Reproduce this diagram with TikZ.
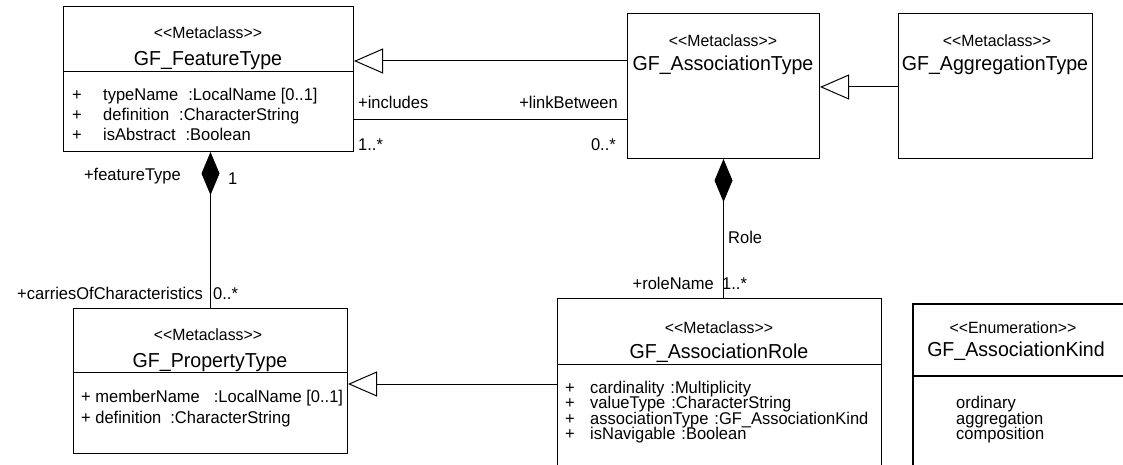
\documentclass[tikz,border=0pt]{standalone}
\usepackage{fontspec}
\setmainfont{Liberation Sans}[FakeStretch=0.97]
\usetikzlibrary{arrows.meta}
\newcommand\stL{<\kern0pt<}
\newcommand\stR{>\kern0pt>}
\newcommand\fA{\fontsize{17}{19}\selectfont}
\newcommand\fN{\fontsize{20.2}{23}\selectfont}
\newcommand\fS{\fontsize{16.3}{18}\selectfont}
\begin{document}
\begin{tikzpicture}[x=1pt,y=-1pt,
  cls/.style={draw, line width=1pt, inner sep=0pt, anchor=north west},
  gen/.style={line width=1pt, -{Triangle[open, length=29pt, width=25pt, fill=white, line width=1pt]}},
  comp/.style={line width=1pt, {Diamond[length=43pt, width=18pt]}-},
  tx/.style={inner sep=0pt, font=\fA},
  nm/.style={inner sep=0pt, font=\fN, anchor=base},
  st/.style={inner sep=0pt, font=\fS, anchor=base},
  sep/.style={line width=1pt}]
\useasboundingbox (0,0) rectangle (1123,465);
% class boxes
\node[cls, minimum width=290pt, minimum height=145pt] (ft) at (63,6) {};
\node[cls, minimum width=192pt, minimum height=145pt] (at) at (627,13) {};
\node[cls, minimum width=194pt, minimum height=145pt] (agg) at (898,13) {};
\node[cls, minimum width=274pt, minimum height=145pt] (pt) at (73,308) {};
\node[cls, minimum width=324pt, minimum height=200pt] (ar) at (557,298) {};
\node[cls, line width=2pt, minimum width=260pt, minimum height=200pt] (ak) at (912,303) {};
% compartments
\draw[sep] (63,72) -- (353,72);
\draw[sep] (73,372) -- (347,372);
\draw[sep] (557,364) -- (881,364);
\draw[line width=2pt] (912,376) -- (1130,376);
% connector levels
\coordinate (g1) at (0,61);
\coordinate (a1) at (0,120);
\coordinate (g2) at (0,87);
\coordinate (g3) at (0,384);
% connectors
\draw[gen] (at.west |- g1) -- (ft.east |- g1);
\draw[line width=1pt] (ft.east |- a1) -- (at.west |- a1);
\draw[gen] (agg.west |- g2) -- (at.east |- g2);
\draw[comp] (ft.south -| pt.north) -- (pt.north);
\draw[comp] (at.south) -- (ar.north -| at.south);
\draw[gen] (ar.west |- g3) -- (pt.east |- g3);
% GF_FeatureType
\node[st] (ft-s) at (208,39) {\stL Metaclass\stR};
\node[nm] (ft-n) at (208,66) {GF\_FeatureType};
\node[tx, anchor=base west] (ft-p1) at (72,101) {+};
\node[tx, anchor=base west] (ft-p2) at (72,121) {+};
\node[tx, anchor=base west] (ft-p3) at (72,141) {+};
\node[tx, anchor=base west] (ft-a1) at (103,101) {typeName\hspace{10pt}:LocalName [0..1]};
\node[tx, anchor=base west] (ft-a2) at (103,121) {definition\hspace{10pt}:CharacterString};
\node[tx, anchor=base west] (ft-a3) at (103,141) {isAbstract\hspace{10pt}:Boolean};
% GF_AssociationType
\node[st] (at-s) at (723,47) {\stL Metaclass\stR};
\node[nm] (at-n) at (723,71) {GF\_AssociationType};
% GF_AggregationType
\node[st] (agg-s) at (997,47) {\stL Metaclass\stR};
\node[nm] (agg-n) at (995,71) {GF\_AggregationType};
% GF_PropertyType
\node[st] (pt-s) at (208,340) {\stL Metaclass\stR};
\node[nm] (pt-n) at (210,367) {GF\_PropertyType};
\node[tx, anchor=base west] (pt-a1) at (81,402) {+ memberName\hspace{14pt}:LocalName [0..1]};
\node[tx, anchor=base west] (pt-a2) at (81,423) {+ definition\hspace{9pt}:CharacterString};
% GF_AssociationRole
\node[st] (ar-s) at (719,333) {\stL Metaclass\stR};
\node[nm] (ar-n) at (719,358) {GF\_AssociationRole};
\node[tx, anchor=base west] (ar-p1) at (565,393) {+};
\node[tx, anchor=base west] (ar-p2) at (565,408.5) {+};
\node[tx, anchor=base west] (ar-p3) at (565,424) {+};
\node[tx, anchor=base west] (ar-p4) at (565,439.5) {+};
\node[tx, anchor=base west] (ar-a1) at (590,393) {cardinality\hspace{6pt}:Multiplicity};
\node[tx, anchor=base west] (ar-a2) at (590,408.5) {valueType\hspace{6pt}:CharacterString};
\node[tx, anchor=base west] (ar-a3) at (590,424) {associationType\hspace{6pt}:GF\_AssociationKind};
\node[tx, anchor=base west] (ar-a4) at (590,439.5) {isNavigable\hspace{6pt}:Boolean};
% GF_AssociationKind
\node[st] (ak-s) at (1013,333) {\stL Enumeration\stR};
\node[nm] (ak-n) at (1016,356) {GF\_AssociationKind};
\node[tx, anchor=base west] (ak-l1) at (956,408.5) {ordinary};
\node[tx, anchor=base west] (ak-l2) at (956,424) {aggregation};
\node[tx, anchor=base west] (ak-l3) at (956,439.5) {composition};
% role labels
\node[tx, anchor=base east] (l-ft) at (181,180) {+featureType};
\node[tx, anchor=base west] (l-1) at (228,184) {1};
\node[tx, anchor=base east] (l-cc) at (203,299) {+carriesOfCharacteristics};
\node[tx, anchor=base west] (l-0a) at (213,299) {0..*};
\node[tx, anchor=base west] (l-inc) at (358,109) {+includes};
\node[tx, anchor=base east] (l-lb) at (618,109) {+linkBetween};
\node[tx, anchor=base west] (l-1b) at (358,151) {1..*};
\node[tx, anchor=base east] (l-0b) at (616,151) {0..*};
\node[tx, anchor=base west] (l-role) at (728,243) {Role};
\node[tx, anchor=base east] (l-rn) at (714,289) {+roleName};
\node[tx, anchor=base west] (l-1c) at (722,289) {1..*};
\end{tikzpicture}
\end{document}
